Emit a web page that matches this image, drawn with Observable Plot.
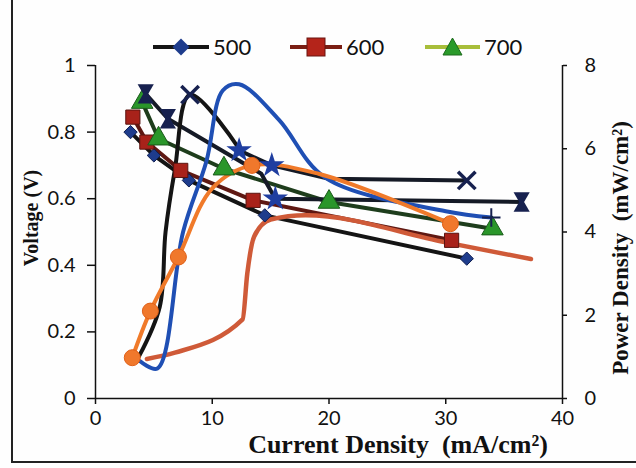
<!DOCTYPE html>
<html><head><meta charset="utf-8">
<script src="https://cdn.jsdelivr.net/npm/d3@7"></script>
<script src="https://cdn.jsdelivr.net/npm/@observablehq/plot@0.6"></script>
<style>
body{margin:0;background:#fff;}
#wrap{position:relative;width:636px;height:468px;overflow:hidden;background:#fefefe;}
.leg{position:absolute;top:33px;display:flex;align-items:center;font-family:Lato,sans-serif;font-size:22px;color:#111;}
.leg svg{margin-right:4px;}
#border{position:absolute;left:11px;top:-5px;width:700px;height:466px;border-left:2px solid #222;border-bottom:2px solid #222;}
</style></head><body>
<div id="wrap">
  <div id="border"></div>
  <div id="plot"></div>
  <div class="leg" style="left:153px"><svg width="56" height="20"><line x1="0" x2="56" y1="10" y2="10" stroke="#151515" stroke-width="4"/><rect x="22" y="4" width="12" height="12" fill="#1e3c8c" transform="rotate(45 28 10)"/></svg>500</div>
  <div class="leg" style="left:290px"><svg width="52" height="20"><line x1="0" x2="52" y1="10" y2="10" stroke="#7a1e14" stroke-width="4"/><rect x="17" y="1" width="18" height="18" fill="#b4241a" stroke="#6a1410"/></svg>600</div>
  <div class="leg" style="left:425px"><svg width="55" height="20"><line x1="0" x2="55" y1="10" y2="10" stroke="#a8be3a" stroke-width="4"/><path d="M27.5,1 L37,18 L18,18 Z" fill="#2a9a2a" stroke="#1c6a1c"/></svg>700</div>
</div>
<script>
// Voltage (V) vs current density (mA/cm2)
const current500 = [3.0, 5.0, 8.0, 14.5, 31.8];
const voltage500 = [0.80, 0.73, 0.655, 0.55, 0.42];
const current600 = [3.2, 4.4, 7.3, 13.5, 30.5];
const voltage600 = [0.845, 0.77, 0.685, 0.595, 0.475];
const current700 = [4.0, 5.4, 11.0, 20.0, 34.0];
const voltage700 = [0.89, 0.78, 0.69, 0.59, 0.51];
const currentX = [12.3, 15.1, 20.0, 31.8];
const voltageX = [0.745, 0.70, 0.66, 0.655];
const currentH = [4.3, 6.2, 14.2, 15.4, 36.5];
const voltageH = [0.915, 0.84, 0.675, 0.60, 0.59];

// Power density (mW/cm2) vs current density (mA/cm2)
const currentPBlack = [3.7, 5.5, 6.0, 6.8, 8.1, 12.3];
const powerPBlack = [1.0, 2.2, 4.0, 5.5, 7.3, 6.0];
const currentPBlue = [3.8, 5.3, 7.5, 9.5, 10.9, 12.3, 15.7, 19.7, 30.0, 33.9];
const powerPBlue = [0.9, 0.72, 4.0, 5.7, 7.4, 7.55, 6.7, 5.3, 4.5, 4.35];
const currentPOrange = [3.15, 4.7, 7.1, 10.0, 13.4, 19.1, 30.4];
const powerPOrange = [0.98, 2.1, 3.4, 5.05, 5.6, 5.4, 4.2];
const markedPOrange = [true, true, true, false, true, false, true];
const currentPSalmon = [4.4, 6.8, 12.6, 13.0, 13.6, 15.0, 18.0, 30.0, 37.3];
const powerPSalmon = [0.95, 1.1, 1.9, 3.0, 3.9, 4.3, 4.4, 3.75, 3.35];

const xTicks = [0, 10, 20, 30, 40];
const vTicks = [0, 0.2, 0.4, 0.6, 0.8, 1];
const pTicks = [0, 2, 4, 6, 8];
const pMax = 8;
const xTitle = "Current Density  (mA/cm²)";
const yTitle = "Voltage (V)";
const y2Title = "Power Density  (mW/cm²)";

const V = (xs, vs) => xs.map((x, i) => ({x, v: vs[i]}));
const P = (xs, ps) => xs.map((x, i) => ({x, v: ps[i] / pMax, i}));

const d500 = V(current500, voltage500);
const d600 = V(current600, voltage600);
const d700 = V(current700, voltage700);
const dX = V(currentX, voltageX);
const dH = V(currentH, voltageH);
const pBlack = P(currentPBlack, powerPBlack);
const pBlue = P(currentPBlue, powerPBlue);
const pOrange = P(currentPOrange, powerPOrange);
const pSalmon = P(currentPSalmon, powerPSalmon);

const navy = "#17214f";
const serif = "'Liberation Serif', 'Times New Roman', serif";
const chart = Plot.plot({
  width: 636, height: 468,
  marginLeft: 95, marginRight: 74, marginTop: 65, marginBottom: 70,
  x: {domain: [0, 40]},
  y: {domain: [0, 1]},
  style: {fontFamily: "Lato, sans-serif", fontSize: "20px", color: "#111", background: "transparent", overflow: "visible"},
  marks: [
    Plot.axisY({ticks: vTicks, tickFormat: d3.format("~g"), tickSize: 8, tickPadding: 12, label: null, strokeWidth: 1.5}),
    Plot.axisY({anchor: "right", ticks: pTicks.map(p => p / pMax), tickFormat: d => d3.format("~g")(d * pMax), tickSize: 4, tickPadding: 18, label: null, strokeWidth: 1.5}),
    Plot.axisX({ticks: xTicks, tickSize: 6, tickPadding: 6, label: null, strokeWidth: 1.5}),
    Plot.ruleY([0], {strokeWidth: 1.5}),
    Plot.ruleX([0], {strokeWidth: 1.5}),
    Plot.ruleX([40], {strokeWidth: 1.5}),
    // axis titles
    Plot.text([yTitle], {frameAnchor: "left", textAnchor: "middle", lineAnchor: "middle", dx: -64, dy: -14, rotate: -90, fontFamily: serif, fontWeight: "bold", fontSize: 20, fill: "#111"}),
    Plot.text([y2Title], {frameAnchor: "right", textAnchor: "middle", lineAnchor: "middle", dx: 58, dy: 16, rotate: -90, fontFamily: serif, fontWeight: "bold", fontSize: 23, fill: "#111"}),
    Plot.text([xTitle], {frameAnchor: "bottom", textAnchor: "middle", lineAnchor: "top", dx: 69, dy: 36, fontFamily: serif, fontWeight: "bold", fontSize: 26, fill: "#111"}),
    // voltage lines
    Plot.line(d500, {x: "x", y: "v", stroke: "#141414", strokeWidth: 4}),
    Plot.line(d600, {x: "x", y: "v", stroke: "#5e1812", strokeWidth: 4}),
    Plot.line(d700, {x: "x", y: "v", stroke: "#1e3d1c", strokeWidth: 4}),
    Plot.line(dX, {x: "x", y: "v", stroke: "#151a26", strokeWidth: 4}),
    Plot.line(dH, {x: "x", y: "v", stroke: "#151a26", strokeWidth: 4}),
    // power curves
    Plot.line(pSalmon, {x: "x", y: "v", stroke: "#cf5a38", strokeWidth: 4.5, curve: "monotone-x"}),
    Plot.line(pBlack, {x: "x", y: "v", stroke: "#141414", strokeWidth: 4, curve: "catmull-rom"}),
    Plot.line(pBlue, {x: "x", y: "v", stroke: "#1f4fb4", strokeWidth: 4, curve: "catmull-rom"}),
    Plot.line(pOrange, {x: "x", y: "v", stroke: "#f07a2a", strokeWidth: 4, curve: "catmull-rom"}),
    // markers
    Plot.dot(d500, {x: "x", y: "v", symbol: "diamond2", r: 6, fill: "#1e3c8c", stroke: "#0e1e50", strokeWidth: 1}),
    Plot.dot(d600, {x: "x", y: "v", symbol: "square", r: 8, fill: "#a8221a", stroke: "#5a1410", strokeWidth: 1}),
    Plot.dot(d700, {x: "x", y: "v", symbol: "triangle", r: 8, fill: "#2a962a", stroke: "#1a5a1a", strokeWidth: 1}),
    Plot.dot(dH.filter((d, i) => i !== 2 && i !== 3), {x: "x", y: "v", symbol: "triangle", rotate: 180, dy: -5, r: 6, fill: navy}),
    Plot.dot(dH.filter((d, i) => i !== 2 && i !== 3), {x: "x", y: "v", symbol: "triangle", dy: 5, r: 6, fill: navy}),
    Plot.dot(dH.filter((d, i) => i === 3), {x: "x", y: "v", symbol: "star", r: 8, fill: "#1f3ea0"}),
    Plot.dot(dX.filter((d, i) => i < 2), {x: "x", y: "v", symbol: "star", r: 8, fill: "#1f3ea0"}),
    Plot.dot(dX.filter((d, i) => i === dX.length - 1), {x: "x", y: "v", symbol: "times", r: 8, stroke: navy, strokeWidth: 3.5}),
    Plot.dot(pBlack.filter((d, i) => i === 4), {x: "x", y: "v", symbol: "times", r: 8, stroke: navy, strokeWidth: 3.5}),
    Plot.dot(pBlue.filter((d, i) => i === pBlue.length - 1), {x: "x", y: "v", symbol: "plus", r: 6, stroke: navy, strokeWidth: 2}),
    Plot.dot(pOrange.filter((d, i) => markedPOrange[i]), {x: "x", y: "v", symbol: "circle", r: 8, fill: "#f0782c", stroke: "#e06018", strokeWidth: 1})
  ]
});
document.getElementById("plot").appendChild(chart);
</script>
</body></html>
